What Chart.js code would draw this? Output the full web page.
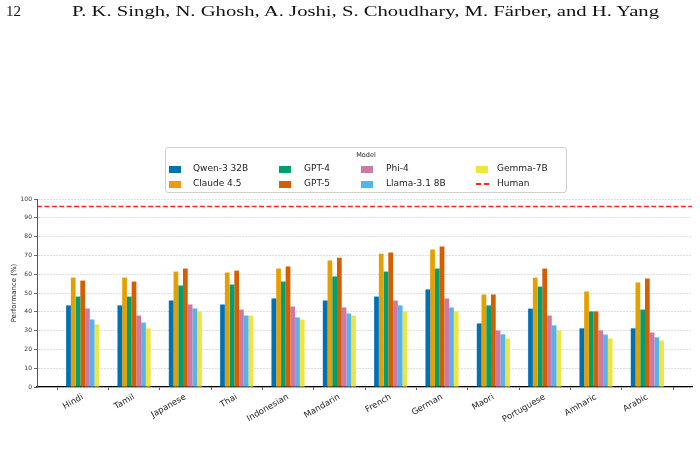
<!DOCTYPE html>
<html>
<head>
<meta charset="utf-8">
<script src="https://cdn.jsdelivr.net/npm/chart.js@4.4.1/dist/chart.umd.min.js"></script>
<style>
  body { margin: 0; background: #fff; }
  #page { position: relative; width: 700px; height: 458px; overflow: hidden; font-family: 'DejaVu Sans', sans-serif; }
  #wrap { position: absolute; left: 0; top: 0; width: 700px; height: 458px; }
  .hdr { position: absolute; font-family: 'Liberation Serif', serif; font-size: 15px; color: #111; white-space: nowrap; }
  #legend { position: absolute; left: 165px; top: 147px; width: 400px; height: 44px; border: 1px solid #d0d0d0; border-radius: 3px; background: #fff; }
  #legend .ttl { position: absolute; left: 0; width: 100%; top: 3px; text-align: center; font-size: 6.5px; color: #222; }
  #legend .item { position: absolute; font-size: 9px; color: #222; white-space: nowrap; }
  #legend .sw { position: absolute; width: 12px; height: 7px; }
  #legend .ln { position: absolute; width: 13px; height: 1.5px;
    background: repeating-linear-gradient(to right, rgba(255,0,0,0.85) 0 5px, transparent 5px 8px); }
</style>
</head>
<body>
<div id="page">
  <div id="wrap"><canvas id="perfChart" width="700" height="458"></canvas></div>
  <div class="hdr" style="left:6px; top:3px;">12</div>
  <div class="hdr" id="authors" style="left:72px; top:3px; transform-origin: left top;">P. K. Singh, N. Ghosh, A. Joshi, S. Choudhary, M. Färber, and H. Yang</div>
  <div id="legend"><div class="ttl">Model</div></div>
</div>
<script>
// Performance per language

var languages = ['Hindi', 'Tamil', 'Japanese', 'Thai', 'Indonesian', 'Mandarin', 'French', 'German', 'Maori', 'Portuguese', 'Amharic', 'Arabic'];

var qwen   = [43.4, 43.4, 46.0, 43.9, 47.1, 46.0, 48.1, 51.9, 33.8, 41.7, 31.2, 31.2];
var claude = [58.2, 58.2, 61.4, 60.9, 63.0, 67.3, 70.9, 73.1, 49.2, 58.2, 50.8, 55.6];
var gpt4   = [48.1, 48.1, 54.0, 54.5, 56.1, 58.8, 61.4, 63.0, 43.4, 53.4, 40.2, 41.2];
var gpt5   = [56.6, 56.1, 63.0, 61.9, 64.1, 68.8, 71.5, 74.7, 49.2, 63.0, 40.2, 57.7];
var phi4   = [41.8, 38.0, 43.9, 41.2, 42.8, 42.3, 46.0, 47.1, 30.1, 38.0, 30.1, 29.0];
var llama  = [35.9, 34.3, 41.8, 38.0, 37.0, 39.1, 43.4, 42.3, 28.0, 32.8, 27.9, 26.4];
var gemma  = [33.3, 31.2, 40.2, 38.0, 35.9, 38.0, 40.2, 40.2, 25.8, 30.1, 25.8, 24.8];
var human  = 96;

var yTicks = [0, 10, 20, 30, 40, 50, 60, 70, 80, 90, 100];

var models = [
  { name: 'Qwen-3 32B',   values: qwen,   color: '#0072B2' },
  { name: 'Claude 4.5',   values: claude, color: '#E69F00' },
  { name: 'GPT-4',        values: gpt4,   color: '#009E73' },
  { name: 'GPT-5',        values: gpt5,   color: '#D55E00' },
  { name: 'Phi-4',        values: phi4,   color: '#CC79A7' },
  { name: 'Llama-3.1 8B', values: llama,  color: '#56B4E9' },
  { name: 'Gemma-7B',     values: gemma,  color: '#F0E442' }
];

var xMin = -0.89, xMax = 11.87;

Chart.defaults.font.family = "'DejaVu Sans', sans-serif";
Chart.defaults.color = '#222';

var datasets = models.map(function (m) {
  return {
    type: 'bar',
    label: m.name,
    data: m.values.map(function (v, i) { return { x: i, y: v }; }),
    backgroundColor: m.color,
    borderWidth: 0,
    categoryPercentage: 0.645,
    barPercentage: 1.0
  };
});

datasets.push({
  type: 'line',
  label: 'Human',
  data: [{ x: xMin, y: human }, { x: xMax, y: human }],
  borderColor: 'rgba(255,0,0,0.85)',
  borderWidth: 1.5,
  borderDash: [5, 2.4],
  pointRadius: 0,
  fill: false
});

var ctx = document.getElementById('perfChart').getContext('2d');
var perfChart = new Chart(ctx, {
  data: { datasets: datasets },
  options: {
    responsive: false,
    animation: false,
    layout: { padding: { top: 199, right: 8, left: 0, bottom: 0 } },
    plugins: {
      legend: { display: false },
      tooltip: { enabled: false }
    },
    scales: {
      x: {
        type: 'linear',
        min: xMin,
        max: xMax,
        offset: false,
        afterBuildTicks: function (scale) {
          scale.ticks = languages.map(function (l, i) { return { value: i }; });
        },
        afterFit: function (scale) {
          scale.height = 71;
          scale.paddingLeft = 0;
          scale.paddingRight = 0;
        },
        ticks: {
          autoSkip: false,
          maxRotation: 30,
          minRotation: 30,
          padding: 2,
          font: { size: 8.5 },
          color: '#222',
          callback: function (v) { return languages[v]; }
        },
        grid: {
          drawOnChartArea: false,
          drawTicks: true,
          tickLength: 3,
          tickColor: '#333',
          tickWidth: 0.8
        },
        border: { display: true, color: '#000', width: 1.3 }
      },
      y: {
        min: 0,
        max: 100,
        afterBuildTicks: function (scale) {
          scale.ticks = yTicks.map(function (v) { return { value: v }; });
        },
        afterFit: function (scale) { scale.width = 37; },
        ticks: {
          padding: 2,
          font: { size: 6 },
          color: '#333'
        },
        grid: {
          color: '#d6d6d6',
          lineWidth: 0.8,
          tickLength: 3,
          tickColor: '#444',
          tickWidth: 0.8,
          tickBorderDash: []
        },
        border: { display: true, color: '#555', width: 1, dash: [2, 1] },
        title: {
          display: true,
          text: 'Performance (%)',
          font: { size: 7 },
          color: '#222',
          padding: { top: 10, bottom: 0 }
        }
      }
    }
  }
});

// legend in the matplotlib column order (column by column)
var legendEl = document.getElementById('legend');
var swX = [3, 113, 195, 310];
var txX = [27, 138, 220, 331];
var rowY = [21, 36];
perfChart.data.datasets.forEach(function (ds, k) {
  var col = Math.floor(k / 2), row = k % 2;
  var mark = document.createElement('div');
  if (ds.type === 'line') {
    mark.className = 'ln';
    mark.style.top = (rowY[row] - 0.75) + 'px';
  } else {
    mark.className = 'sw';
    mark.style.background = ds.backgroundColor;
    mark.style.top = (rowY[row] - 3.5) + 'px';
  }
  mark.style.left = swX[col] + 'px';
  legendEl.appendChild(mark);
  var txt = document.createElement('div');
  txt.className = 'item';
  txt.textContent = ds.label;
  txt.style.left = txX[col] + 'px';
  txt.style.top = (rowY[row] - 6) + 'px';
  legendEl.appendChild(txt);
});

// stretch the running head to the reference width
var au = document.getElementById('authors');
au.style.transform = 'scaleX(' + (587 / au.getBoundingClientRect().width) + ')';
</script>
</body>
</html>
